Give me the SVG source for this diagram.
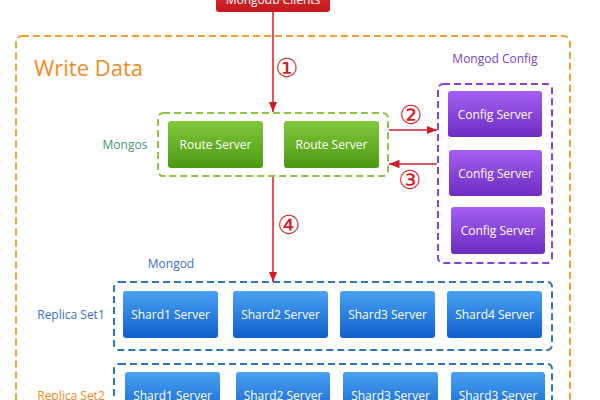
<svg xmlns="http://www.w3.org/2000/svg" width="600" height="400" viewBox="0 0 600 400">
<defs>
<linearGradient id="gGreen" x1="0" y1="0" x2="0" y2="1"><stop offset="0" stop-color="#80c83c"/><stop offset="1" stop-color="#4c9a12"/></linearGradient>
<linearGradient id="gPurple" x1="0" y1="0" x2="0" y2="1"><stop offset="0" stop-color="#a45ef2"/><stop offset="1" stop-color="#6e2cc0"/></linearGradient>
<linearGradient id="gBlue" x1="0" y1="0" x2="0" y2="1"><stop offset="0" stop-color="#4aa2f2"/><stop offset="1" stop-color="#0f5fcc"/></linearGradient>
<linearGradient id="gRed" x1="0" y1="0" x2="0" y2="1"><stop offset="0" stop-color="#e23a3a"/><stop offset="1" stop-color="#c4181c"/></linearGradient>
<marker id="arr" viewBox="0 0 10 10" refX="10" refY="5" markerWidth="7" markerHeight="7" orient="auto"><path d="M0,1 L10,5 L0,9 z" fill="#d01f24"/></marker>
</defs>
<style>
text{font-family:"Open Sans","Noto Sans","Liberation Sans",sans-serif;}
.node text{fill:#fff;font-size:12px;text-anchor:middle;}
.grp{fill:none;stroke-width:2;stroke-dasharray:7 4;}
.conn{stroke:#d01f24;stroke-width:1.5;fill:none;marker-end:url(#arr);}
.num{fill:#d01f24;font-size:26px;text-anchor:middle;font-family:"DejaVu Sans",sans-serif;}
</style>
<rect width="600" height="400" fill="#fff"/>
<!-- containers -->
<rect class="grp" x="16" y="36" width="554" height="400" rx="6" stroke="#eda22c"/>
<text x="34" y="76" font-size="22" fill="#f28a22">Write Data</text>
<rect class="grp" x="158" y="113" width="230" height="63" rx="5" stroke="#8cc63f"/>
<text x="125" y="149" font-size="12" fill="#3c9a6e" text-anchor="middle">Mongos</text>
<rect class="grp" x="438" y="84" width="114" height="179" rx="5" stroke="#8a3fd8"/>
<text x="495" y="63" font-size="12" fill="#7a3fc8" text-anchor="middle">Mongod Config</text>
<text x="171" y="268" font-size="12" fill="#3a6fc0" text-anchor="middle">Mongod</text>
<rect class="grp" x="114" y="282" width="438" height="68" rx="5" stroke="#2d76b8"/>
<text x="71" y="319" font-size="12" fill="#3a6fc0" text-anchor="middle">Replica Set1</text>
<rect class="grp" x="114" y="364" width="438" height="68" rx="5" stroke="#2d76b8"/>
<text x="71" y="400" font-size="12" fill="#f28a22" text-anchor="middle">Replica Set2</text>
<!-- nodes -->
<g id="clients" class="node"><rect x="216" y="-20" width="114" height="32" rx="3" fill="url(#gRed)"/><text x="273" y="4">Mongodb Clients</text></g>
<g id="route1" class="node"><rect x="168" y="121" width="95" height="47" rx="3" fill="url(#gGreen)"/><text x="215.5" y="149">Route Server</text></g>
<g id="route2" class="node"><rect x="284" y="121" width="95" height="47" rx="3" fill="url(#gGreen)"/><text x="331.5" y="149">Route Server</text></g>
<g id="config1" class="node"><rect x="448" y="91" width="94" height="46" rx="3" fill="url(#gPurple)"/><text x="495" y="119">Config Server</text></g>
<g id="config2" class="node"><rect x="449" y="150" width="93" height="46" rx="3" fill="url(#gPurple)"/><text x="495.5" y="178">Config Server</text></g>
<g id="config3" class="node"><rect x="451" y="207" width="94" height="47" rx="3" fill="url(#gPurple)"/><text x="498" y="235">Config Server</text></g>
<g id="rs1s1" class="node"><rect x="123" y="291" width="95" height="47" rx="3" fill="url(#gBlue)"/><text x="170.5" y="319">Shard1 Server</text></g>
<g id="rs1s2" class="node"><rect x="233" y="291" width="95" height="47" rx="3" fill="url(#gBlue)"/><text x="280.5" y="319">Shard2 Server</text></g>
<g id="rs1s3" class="node"><rect x="340" y="291" width="95" height="47" rx="3" fill="url(#gBlue)"/><text x="387.5" y="319">Shard3 Server</text></g>
<g id="rs1s4" class="node"><rect x="447" y="291" width="95" height="47" rx="3" fill="url(#gBlue)"/><text x="494.5" y="319">Shard4 Server</text></g>
<g id="rs2s1" class="node"><rect x="125" y="372" width="95" height="47" rx="3" fill="url(#gBlue)"/><text x="172.5" y="400">Shard1 Server</text></g>
<g id="rs2s2" class="node"><rect x="236" y="372" width="94" height="47" rx="3" fill="url(#gBlue)"/><text x="283" y="400">Shard2 Server</text></g>
<g id="rs2s3" class="node"><rect x="343" y="372" width="95" height="47" rx="3" fill="url(#gBlue)"/><text x="390.5" y="400">Shard3 Server</text></g>
<g id="rs2s4" class="node"><rect x="451" y="372" width="94" height="47" rx="3" fill="url(#gBlue)"/><text x="498" y="400">Shard3 Server</text></g>
<!-- connectors -->
<g id="connectors">
<line class="conn" x1="273" y1="12" x2="273" y2="112"/>
<line class="conn" x1="389" y1="130" x2="437" y2="130"/>
<line class="conn" x1="437" y1="164" x2="389" y2="164"/>
<line class="conn" x1="273" y1="177" x2="273" y2="282"/>
<text class="num" x="287" y="77">①</text>
<text class="num" x="411" y="124">②</text>
<text class="num" x="410" y="189">③</text>
<text class="num" x="289" y="234">④</text>
</g>
</svg>
